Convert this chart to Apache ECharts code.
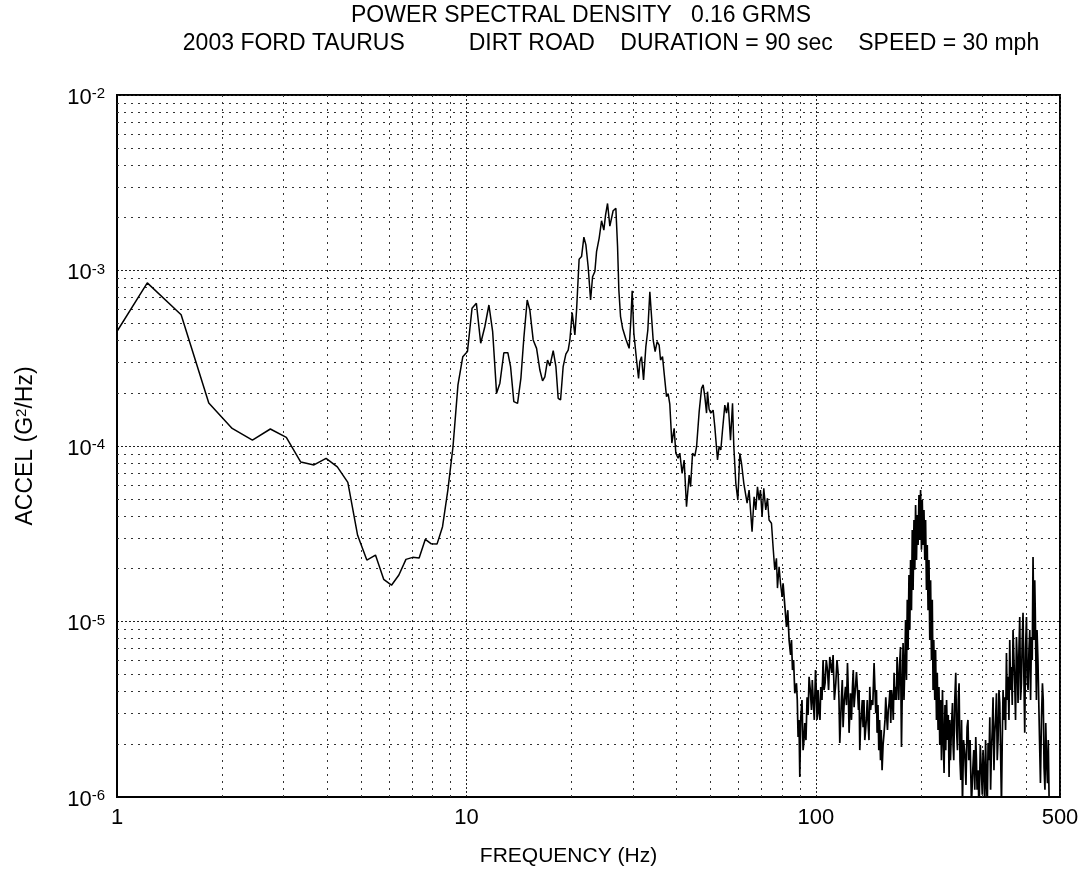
<!DOCTYPE html>
<html>
<head>
<meta charset="utf-8">
<script src="https://cdn.jsdelivr.net/npm/echarts@6/dist/echarts.min.js"></script>
<style>
  html, body { margin: 0; padding: 0; background: #ffffff; }
  #chart { width: 1086px; height: 884px; }
</style>
</head>
<body>
<div id="chart"></div>
<script>
// Titles and axis names
const titleLine1 = 'POWER SPECTRAL DENSITY   0.16 GRMS';
const titleLine2 = '2003 FORD TAURUS          DIRT ROAD    DURATION = 90 sec    SPEED = 30 mph';
const xAxisName = 'FREQUENCY (Hz)';
const yAxisName = 'ACCEL (G{s|2}/Hz)';

// Axis ranges
const freqRange = [1, 500];
const psdRange = [1e-6, 1e-2];

// PSD, 1 - 11 Hz
const lowHz = [0.916, 1.221, 1.526, 1.831, 2.136, 2.441, 2.747, 3.052, 3.357, 3.662, 3.967, 4.272, 4.578, 4.883,
  5.188, 5.493, 5.798, 6.104, 6.409, 6.714, 7.019, 7.324, 7.629, 7.935, 8.240, 8.545, 8.850, 9.155, 9.460,
  9.766, 10.07, 10.38, 10.68, 10.99];
const lowPsd = [3.4e-4, 8.5e-4, 5.6e-4, 1.76e-4, 1.26e-4, 1.08e-4, 1.25e-4, 1.12e-4, 8.1e-5, 7.8e-5, 8.5e-5, 7.6e-5, 6.2e-5, 3.1e-5,
  2.24e-5, 2.39e-5, 1.74e-5, 1.61e-5, 1.84e-5, 2.26e-5, 2.32e-5, 2.30e-5, 2.94e-5, 2.77e-5, 2.76e-5, 3.47e-5, 5.6e-5, 9.9e-5, 2.23e-4,
  3.23e-4, 3.45e-4, 6.1e-4, 6.5e-4, 3.85e-4];

// PSD, 11 - 42 Hz
const midHz = [11.29, 11.60, 11.89, 12.20, 12.47, 12.80, 13.14, 13.38, 13.67, 14.01, 14.32, 14.60, 14.93, 15.19,
  15.53, 15.88, 16.23, 16.52, 16.77, 17.07, 17.34, 17.72, 18.04, 18.31, 18.60, 18.92, 19.26, 19.56, 19.78,
  20.08, 20.44, 20.67, 21.02, 21.36, 21.69, 21.98, 22.31, 22.67, 22.97, 23.32, 23.58, 23.99, 24.37, 24.74,
  25.02, 25.35, 25.74, 26.02, 26.30, 26.78, 27.08, 27.31, 27.62, 27.99, 28.29, 28.61, 28.93, 29.23, 29.56,
  29.82, 30.15, 30.69, 31.10, 31.36, 31.71, 32.14, 32.63, 33.06, 33.50, 33.79, 34.24, 34.69, 35.15, 35.62,
  35.95, 36.42, 36.81, 37.39, 37.79, 38.21, 38.73, 39.32, 39.76, 40.36, 40.82, 41.44, 42.00];
const midPsd = [4.78e-4, 6.36e-4, 4.48e-4, 2.0e-4, 2.28e-4, 3.4e-4, 3.4e-4, 2.83e-4, 1.79e-4, 1.75e-4, 2.43e-4, 4.11e-4, 6.79e-4, 5.96e-4,
  4.02e-4, 3.6e-4, 2.71e-4, 2.35e-4, 2.48e-4, 3.09e-4, 2.86e-4, 3.49e-4, 2.83e-4, 1.87e-4, 1.83e-4, 2.83e-4, 3.34e-4, 3.52e-4, 4.02e-4,
  5.75e-4, 4.29e-4, 5.96e-4, 1.16e-3, 1.2e-3, 1.55e-3, 1.4e-3, 1.05e-3, 6.79e-4, 9.22e-4, 9.87e-4, 1.28e-3, 1.53e-3, 1.92e-3, 1.70e-3,
  2.07e-3, 2.41e-3, 1.79e-3, 1.79e-3, 2.19e-3, 2.26e-3, 1.37e-3, 7.74e-4, 5.46e-4, 4.69e-4, 4.78e-4, 4.06e-4, 4.02e-4, 3.6e-4, 5.22e-4,
  7.67e-4, 4.39e-4, 3.09e-4, 2.43e-4, 3.02e-4, 3.23e-4, 2.38e-4, 3.68e-4, 4.58e-4, 7.57e-4, 7.45e-4, 4.02e-4, 3.45e-4, 3.93e-4, 3.76e-4,
  3.09e-4, 3.23e-4, 2.6e-4, 1.91e-4, 1.99e-4, 1.73e-4, 1.04e-4, 1.26e-4, 9.09e-5, 8.51e-5, 9.1e-5, 6.99e-5, 8.32e-5];

// PSD, 42 - 80 Hz
const upperHz = [42.66, 43.41, 43.81, 44.39, 45.07, 45.58, 46.37, 47.10, 47.60, 48.13, 48.68, 48.99, 49.51, 50.06,
  50.84, 51.40, 52.33, 52.89, 53.48, 54.08, 54.91, 55.53, 56.12, 57.01, 57.77, 58.27, 59.04, 59.83, 60.62,
  61.30, 62.23, 63.05, 63.59, 64.43, 65.04, 65.71, 66.60, 67.34, 68.10, 68.81, 69.45, 70.19, 70.98, 71.92,
  72.73, 73.49, 74.67, 75.46, 76.31, 77.16, 77.68, 78.52, 79.25, 80.10];
const upperPsd = [4.51e-5, 6.83e-5, 5.86e-5, 9.09e-5, 8.77e-5, 9.91e-5, 1.57e-4, 2.13e-4, 2.23e-4, 1.91e-4, 1.54e-4, 2.04e-4, 1.62e-4, 1.54e-4,
  1.60e-4, 1.29e-4, 8.32e-5, 9.91e-5, 9.49e-5, 1.23e-4, 1.71e-4, 1.54e-4, 1.77e-4, 1.08e-4, 1.75e-4, 9.91e-5, 6.13e-5, 4.92e-5, 9.09e-5,
  7.97e-5, 6.13e-5, 6.13e-5, 4.72e-5, 5.61e-5, 4.32e-5, 3.25e-5, 5.14e-5, 4.32e-5, 5.86e-5, 4.92e-5, 5.61e-5, 3.96e-5, 5.74e-5, 4.32e-5,
  5.04e-5, 3.79e-5, 3.63e-5, 2.67e-5, 1.97e-5, 2.29e-5, 1.55e-5, 2.05e-5, 1.65e-5, 1.38e-5];

// PSD, 80 - 180 Hz (densely packed bins)
const denseHz = [80.10, 80.61, 82.44, 83.15, 83.87, 84.70, 85.20, 85.77, 86.39, 87.08, 88.05, 88.52, 88.99, 89.52,
  90.00, 90.59, 91.31, 91.97, 92.52, 93.01, 93.74, 94.43, 95.05, 95.68, 96.45, 97.21, 97.72, 98.24,
  99.02, 99.81, 100.33, 100.86, 101.53, 102.20, 102.81, 103.35, 104.17, 104.93, 105.63, 106.33, 107.16, 108.01,
  108.80, 109.67, 110.39, 111.12, 112.08, 113.04, 114.09, 115.00, 115.83, 116.52, 117.14, 118.46, 119.08, 119.71,
  120.67, 121.63, 122.42, 123.23, 123.88, 124.54, 125.70, 126.52, 127.35, 128.03, 128.71, 129.74, 130.76, 131.62,
  132.50, 133.03, 133.64, 134.36, 135.14, 135.86, 136.58, 137.39, 138.12, 138.86, 139.67, 140.41, 141.15, 142.0,
  142.75, 143.51, 144.34, 145.59, 146.84, 147.72, 148.50, 149.19, 149.78, 150.67, 151.47, 152.27, 153.19, 153.98,
  154.79, 155.81, 156.85, 157.79, 158.61, 159.45, 160.39, 161.24, 162.10, 163.06, 163.92, 164.79, 165.76, 166.64,
  167.52, 168.53, 169.41, 170.19, 170.87, 171.89, 172.80, 173.72, 174.76, 175.90, 176.83, 177.76, 178.83, 179.78];
const densePsd = [1.38e-5, 1.65e-5, 9.3e-6, 1.16e-5, 7.84e-6, 6.44e-6, 7.84e-6, 5.29e-6, 6.03e-6, 3.9e-6, 4.45e-6, 3.57e-6, 2.2e-6, 2.75e-6,
  1.3e-6, 2.85e-6, 3.57e-6, 1.85e-6, 2.11e-6, 2.64e-6, 2.11e-6, 3.7e-6, 2.93e-6, 4.84e-6, 4.07e-6, 3.13e-6, 4.64e-6, 3.7e-6,
  2.75e-6, 5.29e-6, 4.07e-6, 2.75e-6, 4.07e-6, 3.0e-6, 2.75e-6, 4.24e-6, 3.57e-6, 6.03e-6, 4.07e-6, 4.45e-6, 6.03e-6, 5.29e-6,
  4.07e-6, 6.28e-6, 5.65e-6, 5.1e-6, 6.44e-6, 3.57e-6, 4.45e-6, 6.03e-6, 5.1e-6, 3.57e-6, 2.03e-6, 3.7e-6, 4.64e-6, 2.5e-6,
  3.57e-6, 4.24e-6, 3.34e-6, 5.8e-6, 4.07e-6, 2.32e-6, 3.9e-6, 2.75e-6, 4.24e-6, 5.29e-6, 3.25e-6, 4.07e-6, 5.15e-6, 4.07e-6,
  3.13e-6, 4.07e-6, 1.85e-6, 2.57e-6, 3.0e-6, 3.57e-6, 2.5e-6, 3.57e-6, 2.11e-6, 2.41e-6, 2.85e-6, 3.57e-6, 2.64e-6, 2.11e-6,
  4.24e-6, 3.13e-6, 3.57e-6, 3.34e-6, 5.8e-6, 4.07e-6, 3.0e-6, 4.07e-6, 2.32e-6, 3.34e-6, 1.85e-6, 2.75e-6, 1.62e-6, 2.41e-6,
  1.42e-6, 1.98e-6, 2.32e-6, 2.75e-6, 3.7e-6, 2.93e-6, 2.41e-6, 3.13e-6, 3.43e-6, 4.07e-6, 2.64e-6, 4.07e-6, 3.57e-6, 2.75e-6,
  5.1e-6, 3.57e-6, 4.24e-6, 3.57e-6, 6.28e-6, 4.64e-6, 3.57e-6, 5.65e-6, 7.16e-6, 1.93e-6, 4.07e-6, 7.55e-6, 3.57e-6, 5.5e-6];

// PSD, 180 - 470 Hz (densely packed bins)
const highHz = [180.73, 181.79, 182.75, 183.71, 184.81, 185.79, 186.78, 187.88, 188.88, 189.88, 191.01, 192.02, 193.05, 194.17,
  195.20, 196.23, 197.40, 198.45, 199.51, 200.67, 201.73, 202.80, 204.01, 205.09, 206.19, 207.39, 208.49, 209.60,
  210.85, 211.97, 213.10, 214.35, 215.48, 216.62, 217.62, 219.07, 220.24, 221.52, 222.69, 223.87, 225.20, 226.40,
  227.61, 228.94, 230.46, 231.67, 232.90, 234.30, 235.52, 236.77, 238.19, 239.43, 240.70, 241.82, 242.93, 244.53,
  246.15, 247.13, 248.27, 249.92, 251.56, 252.89, 254.39, 255.74, 257.09, 258.63, 259.99, 261.37, 262.91, 264.83,
  266.95, 269.05, 271.01, 272.63, 274.07, 276.44, 278.98, 281.38, 283.25, 285.13, 287.0, 288.33, 289.47, 291.38,
  293.31, 295.66, 297.97, 299.55, 301.13, 302.92, 304.54, 306.16, 308.02, 309.64, 311.28, 313.14, 314.81, 316.48,
  318.26, 319.95, 321.64, 323.56, 325.28, 327.01, 328.91, 330.65, 332.40, 334.39, 336.16, 337.95, 339.96, 341.76,
  343.57, 345.62, 347.46, 349.30, 351.32, 353.17, 355.04, 357.16, 359.06, 360.97, 363.07, 364.99, 366.92, 369.11,
  371.07, 373.05, 375.22, 377.21, 379.21, 381.48, 383.50, 385.54, 387.78, 389.83, 391.89, 394.23, 396.33, 398.44,
  400.84, 402.96, 405.09, 407.51, 409.68, 411.86, 414.2, 416.39, 418.60, 421.10, 423.33, 424.75, 426.1, 428.07,
  429.76, 432.33, 434.62, 436.92, 439.54, 442.43, 445.35, 447.71, 450.08, 452.78, 455.2, 457.61, 460.35, 462.80,
  465.26, 469.64];
const highPsd = [1.02e-5, 4.64e-6, 1.33e-5, 6.88e-6, 1.84e-5, 8.94e-6, 2.24e-5, 1.16e-5, 3.32e-5, 1.51e-5, 3.79e-5, 1.97e-5, 4.61e-5, 2.24e-5,
  4.04e-5, 2.73e-5, 5.26e-5, 2.91e-5, 5.61e-5, 2.56e-5, 4.92e-5, 2.73e-5, 4.32e-5, 2.24e-5, 3.79e-5, 1.51e-5, 2.73e-5, 1.16e-5,
  2.24e-5, 7.84e-6, 1.72e-5, 6.03e-6, 1.33e-5, 4.07e-6, 7.84e-6, 3.57e-6, 6.88e-6, 2.75e-6, 5.1e-6, 2.41e-6, 4.24e-6, 1.98e-6,
  3.57e-6, 1.62e-6, 4.07e-6, 2.11e-6, 1.37e-6, 3.34e-6, 1.85e-6, 3.57e-6, 2.11e-6, 2.93e-6, 1.3e-6, 2.75e-6, 1.62e-6, 2.5e-6,
  3.43e-6, 1.98e-6, 1.62e-6, 3.57e-6, 5.1e-6, 2.41e-6, 1.85e-6, 3.57e-6, 4.45e-6, 1.62e-6, 1.25e-6, 2.75e-6, 9e-7, 2.11e-6,
  1.78e-6, 1.17e-6, 2.5e-6, 2.75e-6, 1.62e-6, 2.11e-6, 9e-7, 1.42e-6, 1.85e-6, 1.10e-6, 2.2e-6, 1.62e-6, 1.10e-6, 1.42e-6,
  8e-7, 1.98e-6, 1.37e-6, 1.03e-6, 1.85e-6, 1.42e-6, 9e-7, 2.11e-6, 1.2e-6, 9e-7, 2.03e-6, 1.62e-6, 2.85e-6, 1.10e-6,
  1.85e-6, 2.41e-6, 3.7e-6, 1.42e-6, 2.32e-6, 2.75e-6, 3.9e-6, 1.62e-6, 2.11e-6, 4.07e-6, 3.43e-6, 1.85e-6, 9e-7, 2.11e-6,
  4.07e-6, 2.75e-6, 3.7e-6, 2.41e-6, 6.62e-6, 3.57e-6, 4.84e-6, 2.75e-6, 7.84e-6, 4.07e-6, 5.5e-6, 3.34e-6, 8.94e-6, 6.03e-6,
  4.45e-6, 2.75e-6, 8.16e-6, 6.03e-6, 3.43e-6, 6.88e-6, 1.06e-5, 3.57e-6, 4.45e-6, 7.84e-6, 1.12e-5, 4.64e-6, 2.32e-6, 6.88e-6,
  1.06e-5, 4.64e-6, 4.07e-6, 6.88e-6, 8.94e-6, 3.57e-6, 8.16e-6, 6.03e-6, 2.33e-5, 7.84e-6, 1.72e-5, 1.16e-5, 6.88e-6, 3.57e-6,
  8.94e-6, 6.03e-6, 3.57e-6, 2.11e-6, 1.2e-6, 2.75e-6, 4.45e-6, 3.57e-6, 1.48e-6, 1.10e-6, 2.64e-6, 1.62e-6, 1.2e-6, 2.11e-6,
  1.0e-6, 9e-7];

const toPoints = (hz, vals) => hz.map((f, i) => [f, vals[i]]);
const resolvedPoints = toPoints([].concat(lowHz, midHz, upperHz), [].concat(lowPsd, midPsd, upperPsd));
const densePoints = toPoints([].concat(denseHz, highHz), [].concat(densePsd, highPsd));

// Intermediate (2..9 x decade) grid positions on both log axes
const minorSteps = [2, 3, 4, 5, 6, 7, 8, 9];
const xMinorGrid = [];
[1, 10, 100].forEach(d => minorSteps.forEach(m => { if (d * m < freqRange[1]) xMinorGrid.push(d * m); }));
const yMinorGrid = [];
[1e-6, 1e-5, 1e-4, 1e-3].forEach(d => minorSteps.forEach(m => yMinorGrid.push(d * m)));

const gridLines = []
  .concat(xMinorGrid.map(v => [{ coord: [v, psdRange[0]] }, { coord: [v, psdRange[1]] }]))
  .concat(yMinorGrid.map(v => [{ coord: [freqRange[0], v] }, { coord: [freqRange[1], v] }]));

const FONT = "'Liberation Sans', Arial, sans-serif";

const chart = echarts.init(document.getElementById('chart'), null, { renderer: 'canvas' });
chart.setOption({
  animation: false,
  backgroundColor: '#ffffff',
  title: [
    { text: titleLine1, left: 576, top: -1, textAlign: 'center',
      textStyle: { fontFamily: FONT, fontSize: 23, fontWeight: 'normal', color: '#000' } },
    { text: titleLine2, left: 606, top: 27, textAlign: 'center',
      textStyle: { fontFamily: FONT, fontSize: 23, fontWeight: 'normal', color: '#000' } }
  ],
  grid: { left: 117, top: 95, right: 26, bottom: 87, show: true, borderColor: '#000', borderWidth: 2, backgroundColor: 'transparent' },
  xAxis: {
    type: 'log', logBase: 10, min: freqRange[0], max: freqRange[1],
    name: xAxisName, nameLocation: 'middle', nameGap: 49,
    nameTextStyle: { fontFamily: FONT, fontSize: 21, color: '#000', padding: [0, 40, 0, 0] },
    axisLine: { show: true, lineStyle: { color: '#000', width: 2 } },
    axisTick: { show: false },
    axisLabel: { fontFamily: FONT, fontSize: 22, color: '#000', margin: 10,
      formatter: v => String(Math.round(v)) },
    splitLine: { show: true, lineStyle: { color: '#222', width: 1, type: [2, 2] } }
  },
  yAxis: {
    type: 'log', logBase: 10, min: psdRange[0], max: psdRange[1],
    name: yAxisName, nameLocation: 'middle', nameGap: 80, nameRotate: 90,
    nameTextStyle: { fontFamily: FONT, fontSize: 23, color: '#000',
      rich: { s: { fontFamily: FONT, fontSize: 15, verticalAlign: 'top', lineHeight: 15, color: '#000' } } },
    axisLine: { show: true, lineStyle: { color: '#000', width: 2 } },
    axisTick: { show: false },
    axisLabel: {
      margin: 12, padding: [5, 0, 0, 0],
      formatter: v => '{b|10}{s|' + Math.round(Math.log10(v)) + '}',
      rich: {
        b: { fontFamily: FONT, fontSize: 22, color: '#000', verticalAlign: 'bottom', lineHeight: 22, padding: [4, 0, 0, 0] },
        s: { fontFamily: FONT, fontSize: 15, color: '#000', verticalAlign: 'top', lineHeight: 15 }
      }
    },
    splitLine: { show: true, lineStyle: { color: '#222', width: 1, type: [2, 2] } }
  },
  series: [
    {
      name: 'grid', type: 'line', data: [], silent: true, z: 1,
      markLine: {
        silent: true, symbol: ['none', 'none'], animation: false,
        label: { show: false },
        lineStyle: { color: '#333', width: 1, type: [2, 5] },
        emphasis: { disabled: true },
        data: gridLines
      }
    },
    {
      name: 'PSD', type: 'line', data: resolvedPoints, z: 5,
      showSymbol: false, symbol: 'none', clip: true,
      lineStyle: { color: '#000', width: 1.5 }
    },
    {
      name: 'PSD dense', type: 'line', data: densePoints, z: 5,
      showSymbol: false, symbol: 'none', clip: true,
      lineStyle: { color: '#000', width: 1.7 }
    }
  ]
});
</script>
</body>
</html>
